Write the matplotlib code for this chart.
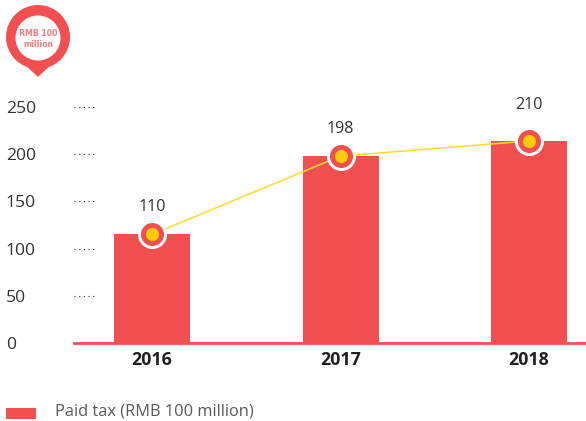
import matplotlib
matplotlib.use("Agg")
import matplotlib.pyplot as plt
from matplotlib.patches import Circle, Polygon, Rectangle

years = ["2016", "2017", "2018"]
bar_values = [115, 198, 214]
point_labels = ["110", "198", "210"]
y_ticks = [0, 50, 100, 150, 200, 250]
legend_label = "Paid tax (RMB 100 million)"
unit_label = "RMB 100\nmillion"

RED = "#f25050"
YEL = "#ffcb05"
W, H = 586, 421
plt.rcParams["font.family"] = ["Open Sans", "DejaVu Sans"]
fig = plt.figure(figsize=(W / 100, H / 100), dpi=100)

bg = fig.add_axes([0, 0, 1, 1], zorder=0)
bg.set_xlim(0, W); bg.set_ylim(H, 0); bg.axis("off")

ax = fig.add_axes([74 / W, 1 - 343 / H, 512 / W, 236 / H], zorder=1)
ax.patch.set_alpha(0)
ax.set_xlim(-0.414, 2.302)
ax.set_ylim(0, 250)
xs = range(len(years))
ax.bar(xs, bar_values, width=0.403, color=RED, zorder=2)
ax.plot(xs, bar_values, color="#ffd92e", lw=1.1, zorder=3)
ax.scatter(xs, bar_values, s=436, color="white", zorder=4, linewidths=0)
ax.scatter(xs, bar_values, s=275, color=RED, zorder=5, linewidths=0)
ax.scatter(xs, bar_values, s=88, color=YEL, zorder=6, linewidths=0)
for x, v, t, off in zip(xs, bar_values, point_labels, [19.7, 19.7, 26.2]):
    ax.annotate(t, (x, v), xytext=(0, off), textcoords="offset points", ha="center",
                va="center", fontsize=11.6, color="#333333", zorder=7)

for s in ["top", "right", "left"]:
    ax.spines[s].set_visible(False)
ax.spines["bottom"].set_color(RED)
ax.spines["bottom"].set_linewidth(2.0)
ax.set_xticks(list(xs), years, fontsize=12.8, fontweight="bold", color="#231f20")
ax.tick_params(axis="x", length=0, pad=6)
ax.set_yticks(y_ticks)
ax.set_yticklabels([str(v) for v in y_ticks], fontsize=12.6, color="#333333", ha="left")
ax.tick_params(axis="y", length=0, pad=49)
for v in y_ticks[1:]:
    ax.plot([0, 0.04], [v, v], transform=ax.get_yaxis_transform(), color="#333333",
            lw=0.8, ls=(0, (1, 3.2)), clip_on=False, zorder=1)

bg.add_patch(Polygon([[22, 62], [38, 77], [54, 62]], closed=True, color=RED, lw=0))
bg.add_patch(Circle((38, 37), 32, color=RED, lw=0))
bg.add_patch(Circle((38, 38), 22.5, color="white", lw=0))
bg.text(38, 39, unit_label, ha="center", va="center", fontsize=6.2, fontweight="bold",
        color="#f47c7c", linespacing=1.25, family="DejaVu Sans", stretch="condensed")

bg.add_patch(Rectangle((6, 408), 30, 11, color=RED, lw=0))
bg.text(55, 412, legend_label, ha="left", va="center", fontsize=11.8, color="#58595b")

fig.savefig("out.png", dpi=100)
